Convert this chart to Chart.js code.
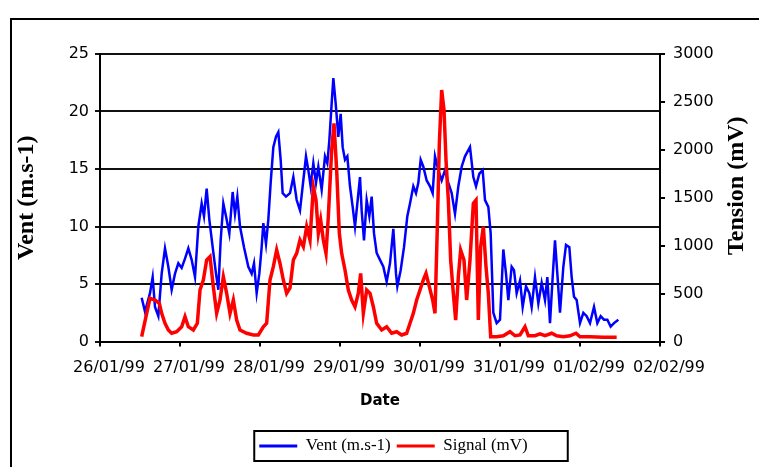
<!DOCTYPE html>
<html>
<head>
<meta charset="utf-8">
<script src="https://cdn.jsdelivr.net/npm/chart.js@4.4.0/dist/chart.umd.min.js"></script>
<style>
  html, body { margin: 0; padding: 0; background: #fff; overflow: hidden; }
  #wrap { position: relative; width: 759px; height: 467px; }
  #frame { position: absolute; left: 10px; top: 18px; width: 800px; height: 500px; border: 2px solid #000; pointer-events: none; }
</style>
</head>
<body>
<div id="wrap">
  <canvas id="graph" width="759" height="467"></canvas>
  <div id="frame"></div>
</div>
<script>
// x values are hours since 26/01/99 00:00
const dateLabels = ['26/01/99', '27/01/99', '28/01/99', '29/01/99', '30/01/99', '31/01/99', '01/02/99', '02/02/99'];

const ventHours = [
    12.5, 13.5, 15.0, 15.8, 16.5, 17.5, 18.5, 19.5, 20.5, 21.5,
    22.5, 23.5, 24.5, 25.5, 26.5, 27.5, 28.5, 29.5, 30.5, 31.2,
    32.0, 32.8, 33.8, 34.8, 35.5, 36.2, 37.0, 37.8, 38.8, 39.8,
    40.5, 41.2, 42.0, 43.2, 44.5, 45.5, 46.2, 47.0, 47.8, 48.5,
    49.0, 49.8, 50.5, 51.2, 52.0, 52.8, 53.5, 54.2, 54.8, 55.8,
    57.0, 58.0, 59.0, 60.0, 60.8, 61.8, 62.5, 63.2, 64.0, 64.8,
    65.5, 66.5, 67.5, 68.2, 68.8, 69.5, 70.0, 70.7, 71.5, 72.2,
    72.8, 73.5, 74.2, 75.0, 75.8, 76.5, 77.2, 78.0, 78.5, 79.2,
    80.0, 80.8, 81.5, 82.2, 83.0, 84.0, 85.0, 86.0, 87.0, 88.0,
    88.8, 89.2, 90.2, 91.2, 92.2, 93.0, 94.0, 94.8, 95.5, 96.2,
    97.0, 98.0, 99.0, 99.8, 100.5, 101.5, 102.5, 103.5, 104.5, 105.5,
    106.5, 107.5, 108.5, 109.5, 111.0, 112.0, 112.8, 113.8, 114.8, 115.5,
    116.5, 117.2, 118.0, 119.0, 120.0, 121.0, 121.8, 122.5, 123.5, 124.2,
    125.0, 126.0, 126.8, 127.8, 128.8, 129.5, 130.5, 131.5, 132.5, 133.5,
    134.2, 135.0, 135.8, 136.5, 137.2, 138.0, 139.0, 139.8, 140.8, 141.5,
    142.2, 143.0, 144.0, 145.0, 146.0, 147.0, 148.2, 149.2, 150.2, 151.2,
    152.2, 153.2, 154.2, 155.5
];
const ventValues = [
    3.8, 2.6, 4.2, 5.6, 3.0, 2.2, 5.9, 8.1, 6.5, 4.5,
    5.9, 6.8, 6.4, 7.2, 8.1, 7.1, 5.6, 10.0, 12.0, 10.9,
    13.3, 10.6, 8.2, 5.9, 4.5, 8.8, 12.0, 10.9, 9.4, 13.0,
    11.1, 12.6, 10.0, 8.2, 6.5, 5.9, 6.8, 4.2, 5.9, 8.2,
    10.3, 8.5, 10.6, 13.8, 16.9, 17.8, 18.2, 15.8, 12.9, 12.6,
    12.9, 14.3, 12.3, 11.4, 13.5, 16.1, 14.9, 13.5, 15.5, 13.8,
    15.2, 13.2, 16.1, 15.5, 17.5, 20.7, 22.9, 20.7, 17.8, 19.8,
    16.9, 15.8, 16.1, 13.5, 11.7, 10.0, 12.0, 14.3, 11.4, 8.8,
    12.3, 10.9, 12.6, 9.4, 7.7, 7.1, 6.5, 5.2, 6.8, 9.8,
    5.9, 4.8, 6.2, 8.2, 10.9, 12.0, 13.5, 12.9, 13.8, 15.8,
    15.2, 14.0, 13.5, 12.9, 16.1, 14.9, 14.0, 14.9, 13.8, 12.9,
    11.1, 13.5, 15.2, 16.1, 16.9, 14.3, 13.5, 14.6, 14.9, 12.3,
    11.7, 9.4, 2.5, 1.6, 1.9, 8.0, 5.9, 3.6, 6.5, 6.2,
    4.2, 5.3, 3.0, 4.8, 4.2, 3.0, 5.6, 3.3, 5.1, 3.6,
    5.6, 1.6, 5.6, 8.8, 5.9, 2.5, 6.5, 8.4, 8.2, 5.6,
    3.9, 3.6, 1.6, 2.5, 2.2, 1.6, 3.0, 1.6, 2.2, 1.9,
    1.9, 1.3, 1.6, 1.9
];

const signalHours = [
    12.5, 14.0, 15.0, 16.5, 17.8, 18.5, 19.5, 20.5, 21.5, 23.0,
    24.5, 25.5, 26.5, 28.0, 29.2, 30.0, 31.0, 32.0, 33.0, 34.0,
    35.0, 36.0, 37.0, 38.0, 39.0, 40.0, 41.0, 42.0, 44.0, 46.0,
    47.5, 49.0, 50.0, 51.0, 52.0, 53.0, 54.0, 55.0, 56.0, 57.0,
    58.0, 59.0, 60.0, 61.0, 62.0, 63.0, 64.0, 64.8, 65.5, 66.2,
    67.0, 67.8, 68.5, 69.5, 70.2, 71.0, 71.8, 72.5, 73.5, 74.5,
    75.5, 76.5, 77.5, 78.2, 79.0, 80.0, 81.0, 82.0, 83.0, 84.5,
    86.0, 87.5, 89.0, 90.5, 92.0, 93.0, 94.0, 95.0, 96.0, 97.0,
    97.8, 98.8, 99.8, 100.5, 101.2, 101.8, 102.5, 103.2, 103.8, 104.5,
    105.2, 106.0, 106.7, 107.5, 108.2, 109.2, 110.0, 111.0, 112.0, 112.8,
    113.5, 114.2, 115.0, 115.8, 116.5, 117.2, 119.0, 121.0, 123.0, 124.5,
    126.0, 127.5, 128.5, 130.5, 132.0, 133.5, 135.5, 137.0, 139.0, 141.0,
    142.8, 144.0, 147.0, 151.0, 155.0
];
const signalValues = [
    50, 294, 451, 433, 398, 294, 190, 120, 86, 102,
    154, 259, 154, 120, 190, 537, 642, 850, 885, 572,
    294, 433, 676, 503, 294, 433, 224, 120, 86, 68,
    68, 154, 190, 642, 781, 955, 816, 642, 503, 560,
    850, 920, 1059, 989, 1198, 1059, 1615, 1476, 1129, 1268,
    1059, 920, 1302, 1998, 2277, 1789, 1129, 920, 746, 537,
    433, 363, 503, 711, 294, 537, 503, 363, 190, 120,
    154, 86, 102, 68, 86, 190, 294, 433, 537, 642,
    711, 572, 433, 294, 1198, 2068, 2624, 2416, 1894, 1476,
    850, 503, 224, 676, 955, 850, 433, 850, 1442, 1476,
    224, 989, 1198, 781, 503, 50, 50, 60, 102, 60,
    68, 154, 60, 60, 80, 60, 86, 60, 50, 60,
    86, 50, 50, 45, 45
];

const tickFont = { family: 'DejaVu Sans', size: 16 };

// "Tension (mV)" reads bottom to top, which the right axis title can't do
const rightTitle = {
    id: 'rightTitle',
    afterDraw(chart) {
        const s = chart.scales.y1;
        const a = chart.chartArea;
        const ctx = chart.ctx;
        ctx.save();
        ctx.translate(s.right - 22, (a.top + a.bottom) / 2 - 12);
        ctx.rotate(-Math.PI / 2);
        ctx.font = 'bold 24px "Liberation Serif"';
        ctx.fillStyle = '#000';
        ctx.textAlign = 'center';
        ctx.textBaseline = 'middle';
        ctx.fillText('Tension (mV)', 0, 0);
        ctx.restore();
    }
};

const legendFrame = {
    id: 'legendFrame',
    afterDraw(chart) {
        const boxes = chart.legend.legendHitBoxes;
        if (!boxes || !boxes.length) return;
        const left = Math.min(...boxes.map(b => b.left)) - 5;
        const right = Math.max(...boxes.map(b => b.left + b.width)) + 40;
        const mid = boxes[0].top + boxes[0].height / 2;
        const ctx = chart.ctx;
        ctx.save();
        ctx.strokeStyle = '#000';
        ctx.lineWidth = 2;
        ctx.strokeRect(left, mid - 15, right - left, 30);
        ctx.restore();
    }
};

const config = {
    type: 'line',
    data: {
        datasets: [
            {
                label: 'Vent (m.s-1)',
                data: ventHours.map((h, i) => ({ x: h, y: ventValues[i] })),
                borderColor: '#0000ff',
                backgroundColor: '#0000ff',
                borderWidth: 2.5,
                yAxisID: 'y',
                order: 1
            },
            {
                label: 'Signal (mV)',
                data: signalHours.map((h, i) => ({ x: h, y: signalValues[i] })),
                borderColor: '#ff0000',
                backgroundColor: '#ff0000',
                borderWidth: 3.5,
                yAxisID: 'y1',
                order: 0
            }
        ]
    },
    options: {
        responsive: false,
        animation: false,
        elements: { point: { radius: 0 }, line: { tension: 0 } },
        layout: { padding: { top: 54, left: 28, right: 0, bottom: 2.5 } },
        scales: {
            x: {
                type: 'linear',
                min: 0,
                max: 168,
                afterFit: s => { s.height = 90; },
                border: { display: true, color: '#000', width: 2 },
                grid: { drawOnChartArea: false, drawTicks: true, tickLength: 5, color: '#000', lineWidth: 2 },
                ticks: {
                    stepSize: 24,
                    autoSkip: false,
                    maxRotation: 0,
                    padding: 12,
                    labelOffset: 9,
                    color: '#000',
                    font: tickFont,
                    callback: v => dateLabels[v / 24] ?? ''
                },
                title: {
                    display: true,
                    text: 'Date',
                    color: '#000',
                    font: { family: 'DejaVu Sans', size: 15, weight: 'bold' },
                    padding: { top: 0, bottom: 21 }
                }
            },
            y: {
                position: 'left',
                min: 0,
                max: 25,
                afterFit: s => { s.width = 72; },
                border: { display: true, color: '#000', width: 2 },
                grid: { color: '#111', lineWidth: 2, tickLength: 5 },
                ticks: { stepSize: 5, padding: 6, color: '#000', font: tickFont },
                title: {
                    display: true,
                    text: 'Vent (m.s-1)',
                    color: '#000',
                    font: { family: 'Liberation Serif', size: 24, weight: 'bold' },
                    padding: { top: -16, bottom: 0 }
                }
            },
            y1: {
                position: 'right',
                min: 0,
                max: 3000,
                afterFit: s => { s.width = 99; },
                border: { display: true, color: '#000', width: 2 },
                grid: { drawOnChartArea: false, color: '#000', lineWidth: 2, tickLength: 5 },
                ticks: { stepSize: 500, padding: 8, color: '#000', font: tickFont, callback: v => String(v) }
            }
        },
        plugins: {
            legend: {
                position: 'bottom',
                labels: {
                    boxWidth: 38,
                    boxHeight: 3,
                    padding: 6,
                    color: '#000',
                    font: { family: 'Liberation Serif', size: 17 },
                    generateLabels: chart => Chart.defaults.plugins.legend.labels.generateLabels(chart)
                        .sort((a, b) => a.datasetIndex - b.datasetIndex)
                        .map(item => Object.assign(item, { lineWidth: 0 }))
                }
            },
            tooltip: { enabled: false }
        }
    },
    plugins: [rightTitle, legendFrame]
};

const myChart = new Chart(document.getElementById('graph'), config);
</script>
</body>
</html>
